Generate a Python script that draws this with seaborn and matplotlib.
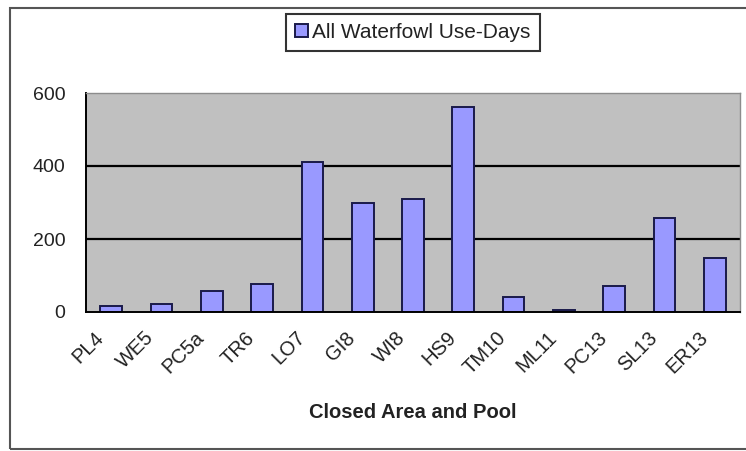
import numpy as np
import pandas as pd
import seaborn as sns
import matplotlib.pyplot as plt
import matplotlib.transforms as mtransforms
from matplotlib.patches import Rectangle
from matplotlib.ticker import FixedLocator

# Dados do grafico
areas = ['PL4', 'WE5', 'PC5a', 'TR6', 'LO7', 'GI8', 'WI8', 'HS9',
         'TM10', 'ML11', 'PC13', 'SL13', 'ER13']
use_days = [16, 23, 57, 76, 411, 299, 310, 561, 42, 5, 71, 257, 149]
yticks = [0, 200, 400, 600]

df = pd.DataFrame({'area': areas, 'use_days': use_days})

sns.set_style('white')
plt.rcParams['font.family'] = ['Liberation Sans', 'DejaVu Sans']

fig = plt.figure(figsize=(7.46, 4.51), dpi=100)
ax = fig.add_axes([86 / 746, 1 - 312 / 451, 654 / 746, 219 / 451])

sns.barplot(data=df, x='area', y='use_days', color='#9999FF', saturation=1,
            width=0.43, edgecolor='#1a1a4a', linewidth=1.4,
            label='All Waterfowl Use-Days', ax=ax)

ax.set_facecolor('#C0C0C0')
ax.set_ylim(0, 600)
ax.set_xlim(-0.5, len(areas) - 0.5)
ax.set_yticks(yticks)
ax.set_yticklabels([str(t) for t in yticks], fontsize=14, color='#222222')
for t in yticks[1:3]:
    ax.axhline(t, color='black', linewidth=1.6, zorder=0.5)

# ticks nas divisas das categorias
ax.xaxis.set_minor_locator(FixedLocator(np.arange(-0.5, len(areas), 1)))
ax.tick_params(axis='x', which='minor', length=6, width=1.3, color='black', direction='out')
ax.tick_params(axis='x', which='major', length=0)
ax.tick_params(axis='y', length=6, width=1.3, color='black', direction='out', pad=9)
ax.set_xticks(range(len(areas)))
ax.set_xticklabels([])

# rotulos das categorias, girados 45 graus
trans = mtransforms.blended_transform_factory(ax.transData, ax.transAxes)
trans = trans + mtransforms.ScaledTranslation(-17 / 100, -16 / 100, fig.dpi_scale_trans)
for i, nome in enumerate(areas):
    ax.text(i, 0, nome, transform=trans, rotation=45, ha='right', va='top',
            rotation_mode='anchor', fontsize=14.5, color='#222222')

for s in ['top', 'right']:
    ax.spines[s].set_color('#8c8c8c')
    ax.spines[s].set_linewidth(1)
for s in ['left', 'bottom']:
    ax.spines[s].set_color('black')
    ax.spines[s].set_linewidth(1.4)

ax.set_xlabel('')
ax.set_ylabel('')
fig.text(413 / 746, 1 - 413 / 451, 'Closed Area and Pool', fontsize=14.5,
         fontweight='bold', color='#222222', ha='center', va='center')

leg = ax.legend(loc='center', bbox_to_anchor=(413 / 746, 1 - 32.5 / 451),
                bbox_transform=fig.transFigure, frameon=True, fancybox=False,
                fontsize=15, handlelength=0.6, handleheight=0.6, handletextpad=0.2,
                borderpad=0.45, borderaxespad=0)
leg.get_frame().set_edgecolor('black')
leg.get_frame().set_linewidth(1.5)
for txt in leg.get_texts():
    txt.set_color('#222222')

# borda externa do grafico
fig.patches.append(Rectangle((10 / 746, 2 / 451), 1.0, 1 - 10 / 451, transform=fig.transFigure,
                             fill=False, edgecolor='#555555', linewidth=1.5))

fig.savefig('out.png', dpi=100)
